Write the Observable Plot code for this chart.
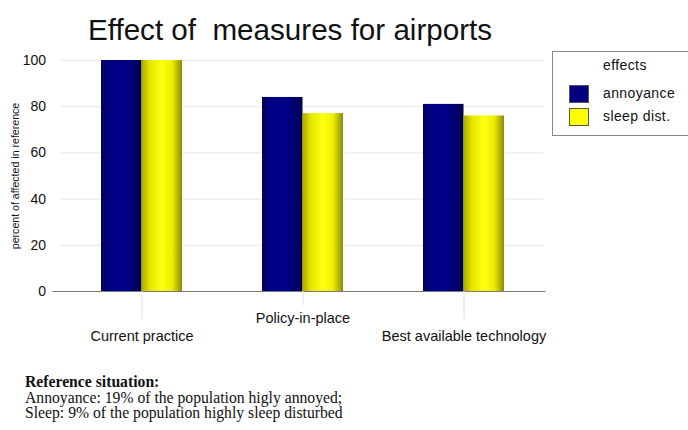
<!DOCTYPE html>
<html>
<head>
<meta charset="utf-8">
<script src="https://cdn.jsdelivr.net/npm/d3@7"></script>
<script src="https://cdn.jsdelivr.net/npm/@observablehq/plot@0.6"></script>
<style>
  html, body { margin: 0; padding: 0; background: #fff; }
  #wrap { position: relative; width: 688px; height: 430px; overflow: hidden; font-family: "Liberation Sans", Arial, sans-serif; color: #111; }
  #chart { position: absolute; left: 0; top: 0; }
  #title { position: absolute; left: 88px; top: 13px; font-size: 29.6px; line-height: 34px; white-space: pre; color: #111; }
  #legend { position: absolute; left: 552px; top: 51px; width: 150px; height: 85px; border: 1px solid #888; box-sizing: border-box; font-size: 14px; letter-spacing: 0.4px; }
  #legend .t { position: absolute; left: 50px; top: 5px; }
  #legend .sw { position: absolute; left: 16px; width: 20px; height: 18px; box-sizing: border-box; border: 1px solid #555; }
  #legend .lab { position: absolute; left: 50px; }
  #note { position: absolute; left: 25px; top: 374px; font-family: "Liberation Serif", "Times New Roman", serif; font-size: 15.7px; line-height: 15.5px; color: #111; white-space: pre; }
</style>
</head>
<body>
<div id="wrap">
  <div id="chart"></div>
  <div id="title">Effect of  measures for airports</div>
  <div id="legend"></div>
  <div id="note"></div>
</div>
<script>
const categories = ["Current practice", "Policy-in-place", "Best available technology"];
const annoyance = [100, 84, 81];
const sleepDist = [100, 77, 76];
const seriesNames = ["annoyance", "sleep dist."];
const seriesColors = ["#000080", "#ffff00"];
const yTicks = [0, 20, 40, 60, 80, 100];
const legendTitle = "effects";
const yLabel = "percent of affected in reference";
const noteTitle = "Reference situation:";
const noteLines = ["Annoyance: 19% of the population higly annoyed;", "Sleep: 9% of the population highly sleep disturbed"];

const rows = categories.map((c, i) => ({category: c, annoyance: annoyance[i], sleep: sleepDist[i]}));

const half = 40.5;
const chart = Plot.plot({
  width: 688,
  height: 430,
  marginLeft: 60.5,
  marginRight: 144.5,
  marginTop: 60,
  marginBottom: 139,
  style: {fontFamily: "'Liberation Sans', Arial, sans-serif", fontSize: "13px", color: "#111", background: "transparent", overflow: "visible"},
  x: {domain: categories, paddingInner: 0.497, paddingOuter: 0.248},
  y: {domain: [0, 100]},
  marks: [
    Plot.gridY(yTicks.slice(1), {stroke: "#e6e6e6", strokeOpacity: 1}),
    Plot.barY(rows, {x: "category", y: "annoyance", fill: "url(#gradNavy)", insetRight: half}),
    Plot.barY(rows, {x: "category", y: "sleep", fill: "url(#gradYellow)", insetLeft: half}),
    Plot.ruleY([0], {stroke: "#7a7a7a", strokeWidth: 1.2, insetLeft: -8, insetRight: -2}),
    Plot.axisY({ticks: yTicks, tickSize: 0, tickPadding: 15, fontSize: 14, label: null}),
    Plot.axisY({ticks: [], label: yLabel, labelAnchor: "center", labelArrow: "none", labelOffset: 50, fontSize: 10.6}),
    Plot.axisX({ticks: [categories[0], categories[2]], tickSize: 28, tickPadding: 11, stroke: "#dcdcdc", fill: "#111", fontSize: 14.5, label: null}),
    Plot.axisX({ticks: [categories[1]], tickSize: 14, tickPadding: 7, stroke: "#dcdcdc", fill: "#111", fontSize: 14.5, label: null})
  ]
});

// cylinder-like gradients for the bars
const defs = d3.select(chart).insert("defs", ":first-child");
const gN = defs.append("linearGradient").attr("id", "gradNavy").attr("x1", "0").attr("x2", "1").attr("y1", "0").attr("y2", "0");
[["0%", "#00005c"], ["20%", "#000080"], ["55%", "#00008a"], ["85%", "#00006a"], ["100%", "#000048"]].forEach(([o, c]) => gN.append("stop").attr("offset", o).attr("stop-color", c));
const gY = defs.append("linearGradient").attr("id", "gradYellow").attr("x1", "0").attr("x2", "1").attr("y1", "0").attr("y2", "0");
[["0%", "#a8a800"], ["20%", "#e4e400"], ["50%", "#ffff10"], ["75%", "#eeee00"], ["100%", "#8c8c00"]].forEach(([o, c]) => gY.append("stop").attr("offset", o).attr("stop-color", c));

document.getElementById("chart").appendChild(chart);

// legend
const lg = document.getElementById("legend");
lg.innerHTML = `<div class="t">${legendTitle}</div>` +
  seriesNames.map((s, i) => `<div class="sw" style="top:${33 + i * 23}px;background:${seriesColors[i]}"></div><div class="lab" style="top:${33 + i * 23}px">${s}</div>`).join("");

// note
const note = document.getElementById("note");
note.innerHTML = `<b>${noteTitle}</b>\n` + noteLines.join("\n");
</script>
</body>
</html>
